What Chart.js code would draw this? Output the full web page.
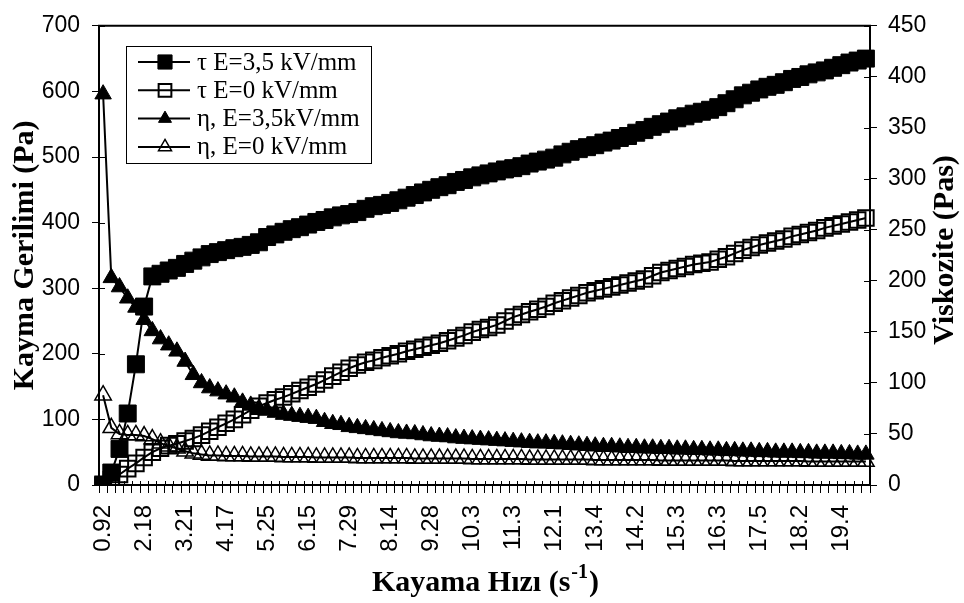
<!DOCTYPE html>
<html>
<head>
<meta charset="utf-8">
<script src="https://cdn.jsdelivr.net/npm/chart.js@4.4.0/dist/chart.umd.min.js"></script>
<style>
  html, body { margin: 0; padding: 0; background: #fff; }
  #wrap { width: 964px; height: 603px; }
</style>
</head>
<body>
<div id="wrap"><canvas id="rheo" width="964" height="603"></canvas></div>
<script>
//----- shear rate labels (one every 5 measurement points) -----//
const shearRateTicks = ['0.92','2.18','3.21','4.17','5.25','6.15','7.29','8.14','9.28','10.3',
                        '11.3','12.1','13.4','14.2','15.3','16.3','17.5','18.2','19.4'];
const POINTS = 94;

//----- shear stress (Pa) -----//
const tauE35 = [0, 19, 55, 109, 184, 272, 318, 322, 327, 331,
                337, 342, 347, 352, 355, 358, 361, 363, 366, 370,
                378, 382, 386, 390, 393, 397, 401, 404, 408, 411,
                413, 416, 421, 425, 427, 430, 434, 438, 442, 446,
                450, 454, 457, 462, 465, 469, 472, 475, 478, 481,
                483, 486, 490, 493, 496, 499, 504, 508, 512, 515,
                518, 522, 525, 529, 532, 537, 541, 546, 550, 554,
                559, 562, 566, 569, 572, 576, 582, 588, 594, 598,
                603, 607, 610, 614, 619, 622, 626, 629, 632, 636,
                640, 644, 647, 650];
const tauE0  = [1, 8, 16, 25, 33, 42, 50, 56, 60, 63,
                67, 71, 76, 82, 88, 94, 100, 107, 114, 120,
                125, 130, 134, 139, 144, 149, 154, 160, 166, 172,
                178, 183, 187, 190, 194, 197, 200, 204, 207, 210,
                213, 216, 220, 224, 228, 233, 237, 240, 244, 250,
                256, 260, 264, 268, 272, 277, 281, 285, 289, 293,
                296, 299, 302, 305, 308, 311, 314, 319, 324, 327,
                330, 333, 336, 338, 340, 344, 348, 353, 358, 362,
                366, 369, 372, 375, 379, 382, 385, 388, 392, 395,
                398, 401, 404, 407];

//----- viscosity (Pas) -----//
const etaE35 = [383, 203, 194, 183, 174, 162, 151, 143, 137, 131,
                121, 108, 100, 95, 92, 89, 86, 81, 78, 75,
                73, 71, 69, 68, 67, 66, 65, 62, 60, 59,
                57, 56, 55, 54, 53, 52, 51, 50.5, 50, 49,
                48, 47.5, 47, 46, 45.5, 45, 44.5, 44, 43.5, 43,
                42.5, 42, 41.5, 41, 41, 40.5, 40, 39.5, 39, 38.5,
                38, 37.5, 37.5, 37, 36.5, 36.5, 36, 36, 35.5, 35.5,
                35, 35, 34.5, 34.5, 34, 34, 33.5, 33.5, 33, 33,
                32.5, 32.5, 32, 32, 32, 31.5, 31.5, 31, 31, 31,
                30.5, 30.5, 30, 30];
const etaE0  = [88, 56, 50, 49, 49, 48, 45, 41, 38, 36,
                33, 31, 30, 29, 29, 28.5, 28.5, 28.5, 28, 28,
                28, 28, 27.5, 27.5, 27.5, 27.5, 27, 27, 27, 27,
                27, 26.5, 26.5, 26.5, 26.5, 26.5, 26.5, 26.5, 26, 26,
                26, 26, 26, 26, 26, 25.5, 25.5, 25.5, 25.5, 25.5,
                25.5, 25.5, 25, 25, 25, 25, 25, 25, 25, 25,
                24.5, 24.5, 24.5, 24.5, 24.5, 24.5, 24.5, 24.5, 24, 24,
                24, 24, 24, 24, 24, 24, 24, 23.5, 23.5, 23.5,
                23.5, 23.5, 23.5, 23.5, 23.5, 23.5, 23, 23, 23, 23,
                23, 23, 23, 23];

//----- category labels: only every 5th point gets text -----//
let shearLabels = [];
for(let i=0;i<POINTS;i++){
  shearLabels.push(i%5==0 ? shearRateTicks[i/5] : '');
}

const SANS  = '"Liberation Sans", Arial, sans-serif';
const SERIF = '"Liberation Serif", "Times New Roman", serif';

function series(label, data, axis, style, radius, filled, bw){
  return {
    label: label,
    data: data,
    yAxisID: axis,
    borderColor: '#000',
    borderWidth: 2,
    tension: 0,
    pointStyle: style,
    pointRadius: radius,
    pointBorderWidth: bw,
    pointBorderColor: '#000',
    pointBackgroundColor: filled ? '#000' : 'rgba(0,0,0,0)'
  };
}

const datasets = [
  series('τ E=3,5 kV/mm',  tauE35, 'y',  'rect',     12,   true,  1),
  series('τ E=0 kV/mm',    tauE0,  'y',  'rect',     11,   false, 2),
  series('η, E=3,5kV/mm',  etaE35, 'y1', 'triangle', 9.5,  true,  1),
  series('η, E=0 kV/mm',   etaE0,  'y1', 'triangle', 9.5,  false, 1.5)
];

//----- plot frame + inner half of the cross tick marks -----//
const frameTicks = {
  id: 'frameTicks',
  beforeDatasetsDraw(chart){
    const {ctx, chartArea: a, scales} = chart;
    ctx.save();
    ctx.strokeStyle = '#000';
    ctx.lineWidth = 2;
    ctx.beginPath();
    ctx.moveTo(a.left-1, a.top);
    ctx.lineTo(a.right+1, a.top);
    ctx.stroke();

    ctx.lineWidth = 1;
    ctx.beginPath();
    const x = scales.x;
    for(let i=1;i<POINTS;i++){
      const px = Math.round((x.getPixelForValue(i-1)+x.getPixelForValue(i))/2)+0.5;
      ctx.moveTo(px, a.bottom);
      ctx.lineTo(px, a.bottom-4);
    }
    scales.y.ticks.forEach(t => {
      const py = Math.round(scales.y.getPixelForValue(t.value))+0.5;
      ctx.moveTo(a.left, py);
      ctx.lineTo(a.left+6, py);
    });
    scales.y1.ticks.forEach(t => {
      const py = Math.round(scales.y1.getPixelForValue(t.value))+0.5;
      ctx.moveTo(a.right-6, py);
      ctx.lineTo(a.right, py);
    });
    ctx.stroke();
    ctx.restore();
  }
};

//----- boxed legend in the upper left of the plot -----//
const boxLegend = {
  id: 'boxLegend',
  afterDraw(chart){
    const ctx = chart.ctx;
    ctx.save();
    ctx.strokeStyle = '#000';
    ctx.lineWidth = 1;
    ctx.strokeRect(126.5, 46.5, 245, 117);
    ctx.font = '25px ' + SERIF;
    ctx.textBaseline = 'middle';
    ctx.textAlign = 'left';
    chart.data.datasets.forEach((ds, i) => {
      const y = 62 + i*28.3;
      ctx.lineWidth = 2;
      ctx.strokeStyle = '#000';
      ctx.beginPath();
      ctx.moveTo(138, y);
      ctx.lineTo(190, y);
      ctx.stroke();
      ctx.fillStyle = ds.pointBackgroundColor;
      ctx.strokeStyle = ds.pointBorderColor;
      ctx.lineWidth = ds.pointBorderWidth;
      // legend markers a bit smaller than the plotted ones
      Chart.helpers.drawPoint(ctx, {pointStyle: ds.pointStyle, radius: ds.pointRadius-2, rotation: 0, borderWidth: ds.pointBorderWidth}, 165, y);
      ctx.fillStyle = '#000';
      ctx.fillText(ds.label, 197, y+1);
    });
    ctx.restore();
  }
};

//----- right and bottom axis titles (rotated upwards / with superscript) -----//
const axisTitles = {
  id: 'axisTitles',
  afterDraw(chart){
    const {ctx, chartArea: a} = chart;
    ctx.save();
    ctx.fillStyle = '#000';
    ctx.font = 'bold 30px ' + SERIF;
    ctx.textAlign = 'center';
    ctx.textBaseline = 'middle';
    ctx.translate(945, 250);
    ctx.rotate(-Math.PI/2);
    ctx.fillText('Viskozite (Pas)', 0, 0);
    ctx.restore();

    ctx.save();
    ctx.fillStyle = '#000';
    ctx.textBaseline = 'alphabetic';
    ctx.textAlign = 'left';
    const main = 'Kayama Hızı (s', sup = '-1', close = ')';
    const bigFont = 'bold 30px ' + SERIF, supFont = 'bold 20px ' + SERIF;
    ctx.font = bigFont;
    const w1 = ctx.measureText(main).width, w3 = ctx.measureText(close).width;
    ctx.font = supFont;
    const w2 = ctx.measureText(sup).width;
    let x0 = (a.left + a.right)/2 - (w1+w2+w3)/2;
    const base = 591;
    ctx.font = bigFont;
    ctx.fillText(main, x0, base);
    ctx.font = supFont;
    ctx.fillText(sup, x0+w1+1, base-13);
    ctx.font = bigFont;
    ctx.fillText(close, x0+w1+w2+2, base);
    ctx.restore();
  }
};

const gridOpts = (len) => ({drawOnChartArea: false, drawTicks: true, tickLength: len, color: '#000', lineWidth: 1});

new Chart(document.getElementById('rheo'), {
  type: 'line',
  data: {
    labels: shearLabels,
    datasets: datasets
  },
  options: {
    responsive: false,
    animation: false,
    layout: {padding: {top: 16, left: 0, right: 0, bottom: 0}},
    plugins: {legend: {display: false}, tooltip: {enabled: false}},
    scales: {
      x: {
        type: 'category',
        offset: true,
        grid: Object.assign(gridOpts(8), {offset: true}),
        border: {color: '#000', width: 2},
        ticks: {autoSkip: false, minRotation: 90, maxRotation: 90, padding: 12, color: '#000',
                font: {family: SANS, size: 24}},
        afterFit: s => { s.height = 118; }
      },
      y: {
        position: 'left',
        min: 0, max: 700,
        grid: gridOpts(7),
        border: {color: '#000', width: 2},
        ticks: {stepSize: 100, padding: 12, color: '#000', font: {family: SANS, size: 23}},
        title: {display: true, text: 'Kayma Gerilimi (Pa)', color: '#000',
                font: {family: SERIF, size: 30, weight: 'bold'}, padding: {top: 7.5, bottom: 0}},
        afterFit: s => { s.width = 99; }
      },
      y1: {
        position: 'right',
        min: 0, max: 450,
        grid: gridOpts(7),
        border: {color: '#000', width: 2},
        ticks: {stepSize: 50, padding: 11, color: '#000', font: {family: SANS, size: 23}},
        afterFit: s => { s.width = 94; }
      }
    }
  },
  plugins: [frameTicks, boxLegend, axisTitles]
});
</script>
</body>
</html>
